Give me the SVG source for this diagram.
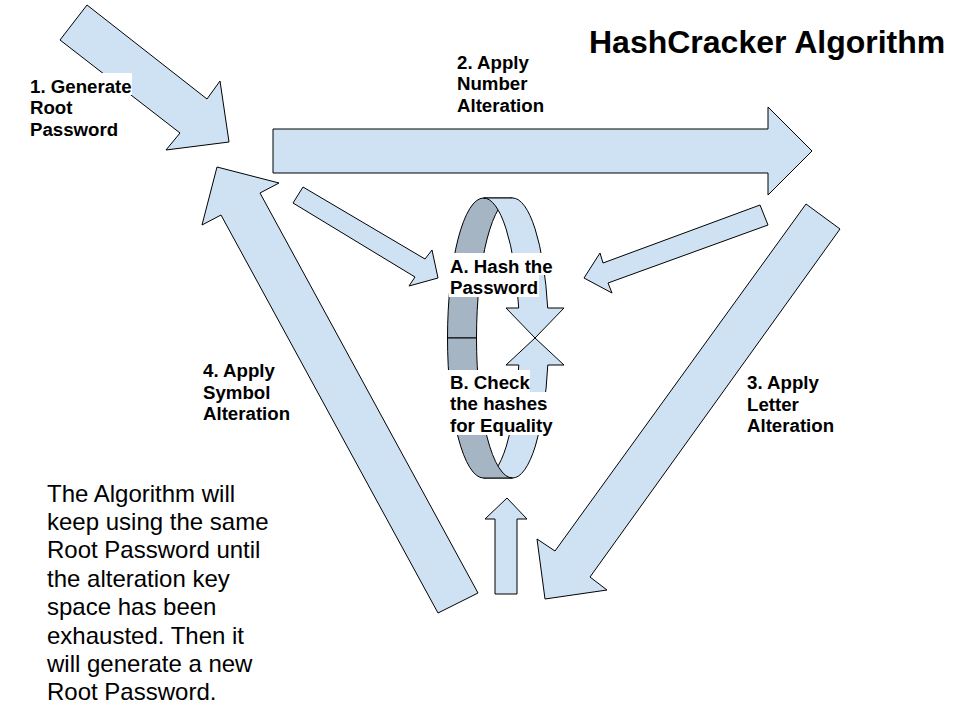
<svg xmlns="http://www.w3.org/2000/svg" width="960" height="720" viewBox="0 0 960 720">
<style>
.ar{fill:#cfe2f3;stroke:#000;stroke-width:1;stroke-linejoin:miter}
.dk{fill:#a5b5c4;stroke:#000;stroke-width:1}
.lb{font-family:"Liberation Sans",Arial,sans-serif;font-weight:bold;font-size:18.67px;fill:#000}
.pg{font-family:"Liberation Sans",Arial,sans-serif;font-size:24px;fill:#000}
.hl{fill:#fff}
</style>
<rect width="960" height="720" fill="#fff"/>
<g id="connectors">
  <polygon id="arrow-generate" class="ar" points="87,5 207,99 220,81 229,142 166,150 180,133 60,40"/>
  <polygon id="arrow-number" class="ar" points="273,129 768,129 768,107 812,151 768,195 768,173 273,173"/>
  <polygon id="arrow-letter" class="ar" points="806,204 840,229 590,577 607,590 545,599 537,539 555,551"/>
  <polygon id="arrow-symbol" class="ar" points="438,613 478,593 260,193 279,183 217,167 202,225 221,215"/>
  <polygon id="arrow-in-left" class="ar" points="303,187 425,259 432,250 438,278 409,286 415,277 293,203"/>
  <polygon id="arrow-in-right" class="ar" points="760,205 768,225 608,283 612,293 584,278 600,253 603,263"/>
  <polygon id="arrow-in-bottom" class="ar" points="495,594 517,594 517,519 527,519 507,498 485,519 495,519"/>
</g>
<g id="hash-cycle">
  <path class="dk" d="M483.5,198 A36,140 0 0 0 447.5,338 L476.5,338 A36,140 0 0 1 512.5,198 Z"/>
  <path class="ar" d="M483.5,198 L512.5,198 A36,140 0 0 1 547.7,308 L564,308 L535,338 L506,308 L518.7,308 A36,140 0 0 0 483.5,198 Z"/>
  <path class="ar" d="M483.5,478 L512.5,478 A36,140 0 0 0 547.8,365 L564,365 L535,338 L506,365 L518.8,365 A36,140 0 0 1 483.5,478 Z"/>
  <path class="dk" d="M483.5,478 A36,140 0 0 1 447.5,338 L476.5,338 A36,140 0 0 0 512.5,478 Z"/>
</g>
<g id="title">
  <text class="lb" x="589" y="53" style="font-size:32px">HashCracker Algorithm</text>
</g>
<g id="label-generate">
  <rect class="hl" x="30" y="73" width="102" height="22"/>
  <text class="lb" x="30" y="92.5">1. Generate</text>
  <text class="lb" x="30" y="114">Root</text>
  <text class="lb" x="30" y="135.5">Password</text>
</g>
<g id="label-number">
  <text class="lb" x="457" y="68.5">2. Apply</text>
  <text class="lb" x="457" y="90">Number</text>
  <text class="lb" x="457" y="111.5">Alteration</text>
</g>
<g id="label-letter">
  <text class="lb" x="747" y="389">3. Apply</text>
  <text class="lb" x="747" y="410.5">Letter</text>
  <text class="lb" x="747" y="432">Alteration</text>
</g>
<g id="label-symbol">
  <text class="lb" x="203" y="377">4. Apply</text>
  <text class="lb" x="203" y="398.5">Symbol</text>
  <text class="lb" x="203" y="420">Alteration</text>
</g>
<g id="label-hash">
  <rect class="hl" x="449" y="253" width="104" height="22"/>
  <rect class="hl" x="449" y="275" width="90" height="22"/>
  <text class="lb" x="450" y="272.5">A. Hash the</text>
  <text class="lb" x="450" y="294">Password</text>
</g>
<g id="label-check">
  <rect class="hl" x="448" y="370" width="82" height="22"/>
  <rect class="hl" x="448" y="392" width="100" height="21"/>
  <rect class="hl" x="448" y="413" width="105" height="22"/>
  <text class="lb" x="450" y="388.5">B. Check</text>
  <text class="lb" x="450" y="410">the hashes</text>
  <text class="lb" x="450" y="431.5">for Equality</text>
</g>
<g id="note">
  <text class="pg" x="47" y="501.5">The Algorithm will</text>
  <text class="pg" x="47" y="529.9">keep using the same</text>
  <text class="pg" x="47" y="558.3">Root Password until</text>
  <text class="pg" x="47" y="586.7">the alteration key</text>
  <text class="pg" x="47" y="615.1">space has been</text>
  <text class="pg" x="47" y="643.5">exhausted. Then it</text>
  <text class="pg" x="47" y="671.9">will generate a new</text>
  <text class="pg" x="47" y="700.3">Root Password.</text>
</g>
</svg>
